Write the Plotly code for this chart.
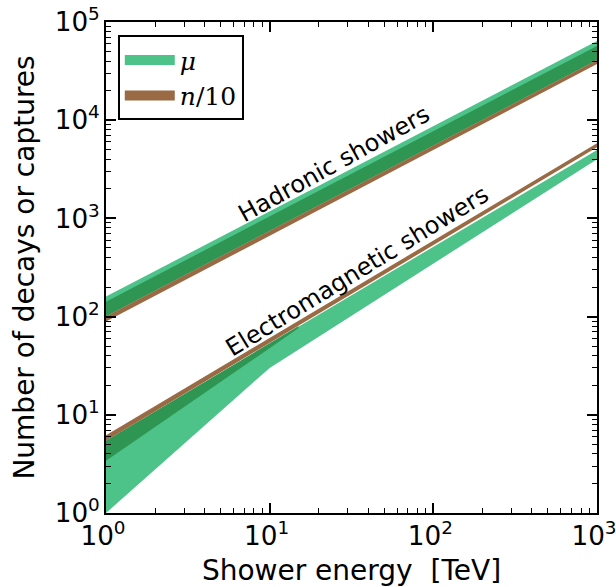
import plotly.graph_objects as go

# ---- data ----
energy_had = [1, 1000]
had_n_lo = [89, 37300]
had_n_hi = [101, 41000]
had_mu_dark_hi = [142, 57000]
had_mu_hi = [160, 64000]

energy_em_n = [1, 1000]
em_n_lo = [5.45, 5300]
em_n_hi = [6.2, 5820]

energy_em_mu = [1, 10, 1000]
em_mu_lo = [1.0, 30, 4000]
em_mu_hi = [5.45, 53, 4970]

energy_em_mu_dark = [1, 15]
em_mu_dark_lo = [3.4, 76]
em_mu_dark_hi = [5.45, 80]

exp_alias = {"1": "10<sup>0</sup>", "10": "10<sup>1</sup>"}

LIGHT = "#4dc389"
DARK = "#2e9552"
BROWN = "#9a6a45"

fig = go.Figure()


def band(x, lo, hi, color):
    fig.add_trace(go.Scatter(
        x=list(x) + list(x)[::-1],
        y=list(lo) + list(hi)[::-1],
        fill="toself", fillcolor=color, mode="lines",
        line=dict(width=0, color=color), showlegend=False, hoverinfo="skip"))


# hadronic
band(energy_had, had_n_hi, had_mu_hi, LIGHT)
band(energy_had, had_n_hi, had_mu_dark_hi, DARK)
band(energy_had, had_n_lo, had_n_hi, BROWN)
# electromagnetic
band(energy_em_mu, em_mu_lo, em_mu_hi, LIGHT)
band(energy_em_mu_dark, em_mu_dark_lo, em_mu_dark_hi, DARK)
band(energy_em_n, em_n_lo, em_n_hi, BROWN)

# legend entries
fig.add_trace(go.Scatter(x=[None], y=[None], mode="lines", name="<i>μ</i>",
                         line=dict(color=LIGHT, width=13)))
fig.add_trace(go.Scatter(x=[None], y=[None], mode="lines", name="<i>n</i>/10",
                         line=dict(color=BROWN, width=13)))

axis_common = dict(
    type="log", showgrid=False, zeroline=False, automargin=False,
    showline=True, linecolor="black", linewidth=2, mirror="ticks",
    ticks="inside", ticklen=10, tickwidth=1.5, tickcolor="black",
    dtick=1, exponentformat="power", showexponent="all", labelalias=exp_alias,
    ticklabeloverflow="allow",
    tickfont=dict(family="DejaVu Sans", size=21, color="black"),
    minor=dict(ticks="inside", ticklen=5, tickwidth=1.2, tickcolor="black", showgrid=False),
)

fig.update_xaxes(range=[0, 3], ticklabelshift=-3,
                 title=dict(text="Shower energy  [TeV]",
                            font=dict(family="DejaVu Sans", size=28, color="black"), standoff=10),
                 **axis_common)
fig.update_yaxes(range=[0, 5],
                 title=dict(text="Number of decays or captures",
                            font=dict(family="DejaVu Sans", size=28, color="black"), standoff=12),
                 **axis_common)

fig.add_annotation(x=1.393, y=3.554, xref="x", yref="y", text="Hadronic showers",
                   showarrow=False, textangle=-29,
                   font=dict(family="DejaVu Sans", size=24, color="black"))
fig.add_annotation(x=1.537, y=2.46, xref="x", yref="y", text="Electromagnetic showers",
                   showarrow=False, textangle=-31.5,
                   font=dict(family="DejaVu Sans", size=24, color="black"))

fig.update_layout(
    width=616, height=587,
    margin=dict(l=106, r=19, t=22, b=74),
    plot_bgcolor="white", paper_bgcolor="white",
    hovermode=False,
    legend=dict(x=0.024, y=0.973, xanchor="left", yanchor="top",
                bgcolor="white", bordercolor="black", borderwidth=2,
                itemwidth=50,
                font=dict(family="DejaVu Serif", size=25, color="black")),
)

# remove the browser's default 8px body margin so the figure sits at the page corner
fig.write_html("out.html", config={"displayModeBar": False},
               post_script="document.body.style.margin='0';")
